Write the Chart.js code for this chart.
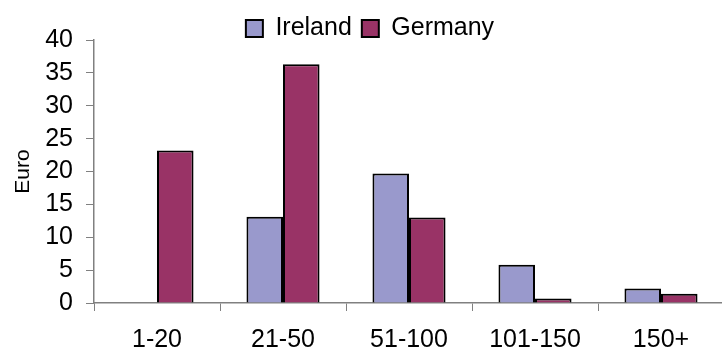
<!DOCTYPE html>
<html>
<head>
<meta charset="utf-8">
<script src="https://cdn.jsdelivr.net/npm/chart.js@4"></script>
<style>
  html, body { margin: 0; padding: 0; background: #fff; overflow: hidden; }
  #wrap { width: 724px; height: 349px; }
</style>
</head>
<body>
<div id="wrap"><canvas id="myChart" width="724" height="349"></canvas></div>
<script>
const categories = ['1-20', '21-50', '51-100', '101-150', '150+'];
const ireland = [0, 13.1, 19.7, 5.8, 2.2];
const germany = [23.2, 36.3, 13.0, 0.7, 1.4];
const yTicks = [0, 5, 10, 15, 20, 25, 30, 35, 40];

const FONT = 'Liberation Sans, Arial, Helvetica, sans-serif';
const AXIS_GREY = '#808080';

// squeeze the legend band and nudge it so the chart starts right under it
const legendTweak = {
    id: 'legendTweak',
    afterInit(chart) {
        const lg = chart.legend;
        if (!lg) return;
        const fit = lg.fit.bind(lg);
        lg.fit = function () { fit(); this.height = 40; };
        const draw = lg.draw.bind(lg);
        lg.draw = function () {
            const c = this.ctx;
            c.save();
            c.translate(8, 6);
            draw();
            c.restore();
        };
    }
};

const ctx = document.getElementById('myChart').getContext('2d');

const chart = new Chart(ctx, {
    type: 'bar',
    data: {
        labels: categories,
        datasets: [{
            label: 'Ireland',
            data: ireland,
            backgroundColor: '#9999CC',
            borderColor: '#000000',
            borderWidth: 2
        }, {
            label: 'Germany',
            data: germany,
            backgroundColor: '#993366',
            borderColor: '#000000',
            borderWidth: 2
        }]
    },
    options: {
        responsive: false,
        animation: false,
        layout: { padding: { top: 0, left: 0, right: 0, bottom: -20 } },
        datasets: {
            bar: { categoryPercentage: 0.58, barPercentage: 1.0 }
        },
        plugins: {
            legend: {
                display: true,
                position: 'top',
                labels: {
                    boxWidth: 17,
                    boxHeight: 17,
                    padding: 10,
                    color: '#000',
                    font: { family: FONT, size: 25 }
                }
            },
            tooltip: { enabled: false }
        },
        scales: {
            x: {
                grid: {
                    display: true,
                    drawOnChartArea: false,
                    drawTicks: true,
                    tickLength: 8,
                    offset: true,
                    color: AXIS_GREY
                },
                border: { display: true, color: AXIS_GREY, width: 1.5 },
                ticks: {
                    color: '#000',
                    padding: 14,
                    maxRotation: 0,
                    font: { family: FONT, size: 25 }
                }
            },
            y: {
                min: yTicks[0],
                max: yTicks[yTicks.length - 1],
                afterFit(scale) { scale.width = 94; },
                grid: {
                    display: true,
                    drawOnChartArea: false,
                    drawTicks: true,
                    tickLength: 8,
                    color: AXIS_GREY
                },
                border: { display: true, color: AXIS_GREY, width: 1.5 },
                ticks: {
                    stepSize: yTicks[1] - yTicks[0],
                    autoSkip: false,
                    color: '#000',
                    padding: 13,
                    font: { family: FONT, size: 25 }
                },
                title: {
                    display: true,
                    text: 'Euro',
                    color: '#000',
                    padding: { top: 11, bottom: 0 },
                    font: { family: FONT, size: 21 }
                }
            }
        }
    },
    plugins: [legendTweak]
});
</script>
</body>
</html>
